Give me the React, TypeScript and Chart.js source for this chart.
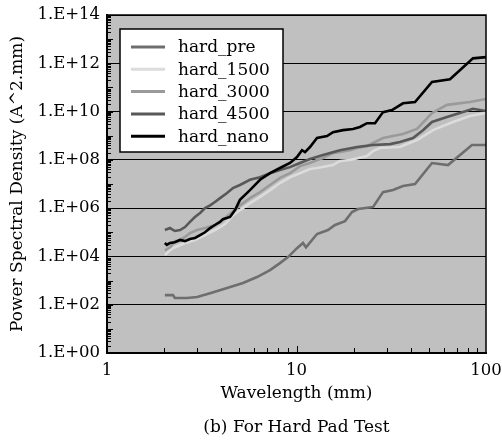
import React, { useEffect, useRef } from "react";
import { Chart, registerables } from "chart.js";

Chart.register(...registerables);

const FONT = "'DejaVu Serif', serif";

const seriesLabels = ["hard_pre", "hard_1500", "hard_3000", "hard_4500", "hard_nano"];
const seriesColors = ["#6e6e6e", "#dcdcdc", "#9a9a9a", "#585858", "#000000"];

const preWl = [2.02, 2.23, 2.28, 2.64, 2.99, 3.5, 4.3, 5.22, 6.19, 7.25, 8.18, 9.02, 10.06, 10.82, 11.22, 12.83, 14.66, 15.97, 18.03, 19.63, 21.11, 25.33, 28.61, 32.3, 36.48, 42.21, 51.88, 63.03, 84.3, 100];
const prePsd = [2.5e2, 2.5e2, 1.9e2, 1.9e2, 2.1e2, 3.0e2, 4.9e2, 7.9e2, 1.4e3, 2.7e3, 5.3e3, 9.4e3, 2.2e4, 3.6e4, 2.4e4, 8.5e4, 1.24e5, 2.0e5, 2.9e5, 6.9e5, 9.2e5, 1.1e6, 4.6e6, 5.6e6, 8.2e6, 1.0e7, 7.4e7, 6.1e7, 4.1e8, 4.1e8];

const h1500Wl = [2.02, 2.15, 2.28, 2.58, 2.91, 3.29, 3.71, 4.2, 4.57, 5.03, 5.68, 6.42, 7.25, 8.18, 9.24, 10.43, 11.78, 12.83, 15.58, 16.96, 19.16, 23.55, 25.33, 27.59, 35.17, 43.24, 52.52, 66.97, 82.32, 100];
const h1500Psd = [1.14e4, 1.8e4, 2.4e4, 3.6e4, 4.8e4, 7.7e4, 1.24e5, 2.2e5, 4.7e5, 8.3e5, 1.6e6, 2.9e6, 5.6e6, 1.1e7, 1.9e7, 2.8e7, 4.2e7, 4.6e7, 6.1e7, 8.9e7, 9.8e7, 1.44e8, 2.3e8, 3.1e8, 3.4e8, 6.6e8, 1.7e9, 3.7e9, 6.5e9, 8.7e9];

const h3000Wl = [2.02, 2.15, 2.28, 2.43, 2.58, 2.74, 2.99, 3.29, 3.71, 4.2, 4.57, 5.03, 5.68, 6.42, 7.25, 8.18, 9.24, 10.43, 11.78, 12.83, 13.8, 15.58, 16.96, 19.16, 20.86, 23.55, 25.33, 28.61, 32.3, 36.48, 43.24, 51.88, 62.27, 82.32, 100];
const h3000Psd = [1.8e4, 2.4e4, 4.3e4, 4.8e4, 6.4e4, 9.3e4, 1.24e5, 1.5e5, 2.0e5, 3.9e5, 6.9e5, 1.3e6, 2.6e6, 4.6e6, 9.1e6, 1.8e7, 2.8e7, 5.5e7, 7.4e7, 9.8e7, 1.2e8, 1.9e8, 2.1e8, 2.5e8, 3.1e8, 3.7e8, 5.0e8, 8.0e8, 9.7e8, 1.17e9, 1.9e9, 8.7e9, 1.9e10, 2.5e10, 3.3e10];

const h4500Wl = [2.02, 2.15, 2.28, 2.43, 2.58, 2.74, 2.91, 3.1, 3.29, 3.5, 3.71, 3.95, 4.3, 4.62, 5.03, 5.68, 6.42, 7.25, 8.18, 9.24, 10.43, 11.78, 13.8, 16.96, 20.86, 25.33, 31.15, 35.17, 41.19, 46.5, 51.88, 62.27, 75.6, 85.37, 100];
const h4500Psd = [1.24e5, 1.5e5, 1.13e5, 1.24e5, 1.65e5, 2.7e5, 4.3e5, 6.3e5, 1.0e6, 1.3e6, 1.8e6, 2.6e6, 4.2e6, 6.8e6, 9.1e6, 1.5e7, 1.9e7, 2.8e7, 3.8e7, 5.0e7, 7.4e7, 1.08e8, 1.6e8, 2.5e8, 3.4e8, 4.1e8, 4.5e8, 5.5e8, 8.0e8, 1.7e9, 3.7e9, 5.9e9, 9.5e9, 1.3e10, 1.05e10];

const nanoWl = [2.02, 2.07, 2.15, 2.28, 2.43, 2.58, 2.74, 2.91, 3.1, 3.29, 3.5, 3.71, 3.95, 4.09, 4.46, 4.74, 5.03, 5.68, 6.42, 7.25, 8.18, 9.24, 10.06, 10.69, 11.09, 11.78, 12.83, 14.49, 15.58, 17.6, 19.87, 21.63, 23.55, 25.96, 28.61, 31.92, 36.48, 42.21, 51.88, 64.57, 85.37, 100];
const nanoPsd = [3.6e4, 3.0e4, 3.6e4, 3.9e4, 4.8e4, 4.3e4, 5.3e4, 5.8e4, 7.7e4, 1.0e5, 1.5e5, 2.0e5, 2.7e5, 3.5e5, 4.3e5, 8.3e5, 2.2e6, 5.6e6, 1.5e7, 2.8e7, 4.6e7, 7.4e7, 1.3e8, 2.5e8, 2.1e8, 3.4e8, 8.0e8, 9.7e8, 1.4e9, 1.7e9, 1.9e9, 2.3e9, 3.3e9, 3.3e9, 9.5e9, 1.15e10, 2.2e10, 2.5e10, 1.7e11, 2.2e11, 1.6e12, 1.8e12];

const seriesWl = [preWl, h1500Wl, h3000Wl, h4500Wl, nanoWl];
const seriesPsd = [prePsd, h1500Psd, h3000Psd, h4500Psd, nanoPsd];
const seriesOrder = [4, 3, 2, 1, 0];

const xTickValues = [1, 10, 100];
const xTickLabels = ["1", "10", "100"];
const yTickValues = [1, 1e2, 1e4, 1e6, 1e8, 1e10, 1e12, 1e14];
const yTickLabels = ["1.E+00", "1.E+02", "1.E+04", "1.E+06", "1.E+08", "1.E+10", "1.E+12", "1.E+14"];

const xTitle = "Wavelength (mm)";
const yTitle = "Power Spectral Density (A^2.mm)";
const caption = "(b) For Hard Pad Test";

const backgroundPlugin = {
  id: "plotBackground",
  beforeDraw(chart: any) {
    const { ctx, chartArea: a } = chart;
    ctx.save();
    ctx.fillStyle = "#c0c0c0";
    ctx.fillRect(a.left, a.top, a.right - a.left, a.bottom - a.top);
    ctx.restore();
  },
};

const decorPlugin = {
  id: "decor",
  afterDraw(chart: any) {
    const { ctx, chartArea: a } = chart;
    const xs = chart.scales.x;
    const ys = chart.scales.y;
    ctx.save();
    // frame top/right
    ctx.strokeStyle = "#000";
    ctx.lineWidth = 1.5;
    ctx.beginPath();
    ctx.moveTo(a.left, a.top);
    ctx.lineTo(a.right, a.top);
    ctx.lineTo(a.right, a.bottom);
    ctx.stroke();
    // inward minor ticks
    ctx.lineWidth = 1;
    ctx.beginPath();
    for (let d = 0; d < 14; d++) {
      for (let m = 1; m <= 9; m++) {
        const v = m * Math.pow(10, d);
        const py = Math.round(ys.getPixelForValue(v)) + 0.5;
        const len = m === 1 ? 6 : 4;
        ctx.moveTo(a.left, py);
        ctx.lineTo(a.left + len, py);
      }
    }
    for (let d = 0; d < 2; d++) {
      for (let m = 1; m <= 9; m++) {
        const v = m * Math.pow(10, d);
        const px = Math.round(xs.getPixelForValue(v)) + 0.5;
        const len = m === 1 ? 7 : 5;
        ctx.moveTo(px, a.bottom);
        ctx.lineTo(px, a.bottom - len);
      }
    }
    ctx.stroke();
    // caption under the x axis title
    ctx.fillStyle = "#000";
    ctx.font = `17px ${FONT}`;
    ctx.textAlign = "center";
    ctx.textBaseline = "middle";
    ctx.fillText(caption, (a.left + a.right) / 2, 428);
    // legend
    const bx = 120, by = 29, bw = 163, bh = 123;
    ctx.fillStyle = "#fff";
    ctx.fillRect(bx, by, bw, bh);
    ctx.strokeStyle = "#000";
    ctx.lineWidth = 1.5;
    ctx.strokeRect(bx, by, bw, bh);
    ctx.font = `17px ${FONT}`;
    ctx.textBaseline = "middle";
    ctx.textAlign = "left";
    chart.data.datasets.forEach((ds: any, i: number) => {
      const y = 47 + i * 22.3;
      ctx.strokeStyle = ds.borderColor;
      ctx.lineWidth = 3;
      ctx.beginPath();
      ctx.moveTo(131, y);
      ctx.lineTo(165, y);
      ctx.stroke();
      ctx.fillStyle = "#000";
      ctx.fillText(ds.label, 178, y + 1);
    });
    ctx.restore();
  },
};

export default function App() {
  const ref = useRef<HTMLCanvasElement>(null);
  useEffect(() => {
    if (!ref.current) return;
    const datasets = seriesLabels.map((label, i) => ({
      label,
      data: seriesWl[i].map((x, j) => ({ x, y: seriesPsd[i][j] })),
      borderColor: seriesColors[i],
      backgroundColor: seriesColors[i],
      borderWidth: 2.6,
      pointRadius: 0,
      tension: 0,
      fill: false,
      order: seriesOrder[i],
    }));
    const chart = new Chart(ref.current, {
      type: "line",
      data: { datasets },
      plugins: [backgroundPlugin, decorPlugin],
      options: {
        animation: false,
        responsive: false,
        events: [],
        layout: { padding: { top: 15, right: 16, left: 0, bottom: 0 } },
        plugins: {
          legend: { display: false },
          tooltip: { enabled: false },
          title: { display: false },
        },
        scales: {
          x: {
            type: "logarithmic",
            min: 1,
            max: 100,
            afterBuildTicks: (s: any) => {
              s.ticks = xTickValues.map((v) => ({ value: v }));
            },
            afterFit: (s: any) => {
              s.height = 90;
              s.paddingLeft = 0;
              s.paddingRight = 0;
            },
            ticks: {
              color: "#000",
              font: { family: FONT, size: 16.5 },
              padding: 8,
              maxRotation: 0,
              autoSkip: false,
              callback: (_v: any, i: number) => xTickLabels[i],
            },
            grid: { drawOnChartArea: false, drawTicks: false },
            border: { display: true, color: "#000", width: 2 },
            title: {
              display: true,
              text: xTitle,
              color: "#000",
              font: { family: FONT, size: 17 },
              padding: { top: 0, bottom: 39 },
            },
          },
          y: {
            type: "logarithmic",
            min: 1,
            max: 1e14,
            afterBuildTicks: (s: any) => {
              s.ticks = yTickValues.map((v) => ({ value: v }));
            },
            afterFit: (s: any) => {
              s.width = 107;
              s.paddingTop = 0;
              s.paddingBottom = 0;
            },
            ticks: {
              color: "#000",
              font: { family: FONT, size: 16.5 },
              padding: 7,
              autoSkip: false,
              callback: (_v: any, i: number) => yTickLabels[i],
            },
            grid: { color: "#000", lineWidth: 1, drawTicks: false },
            border: { display: true, color: "#000", width: 2 },
            title: {
              display: true,
              text: yTitle,
              color: "#000",
              font: { family: FONT, size: 17 },
              padding: { top: 7, bottom: 0 },
            },
          },
        },
      } as any,
    });
    return () => chart.destroy();
  }, []);
  return (
    <div style={{ position: "absolute", left: 0, top: 0, width: 502, height: 443, background: "#fff" }}>
      <canvas ref={ref} width={502} height={443} style={{ width: 502, height: 443, display: "block" }} />
    </div>
  );
}
